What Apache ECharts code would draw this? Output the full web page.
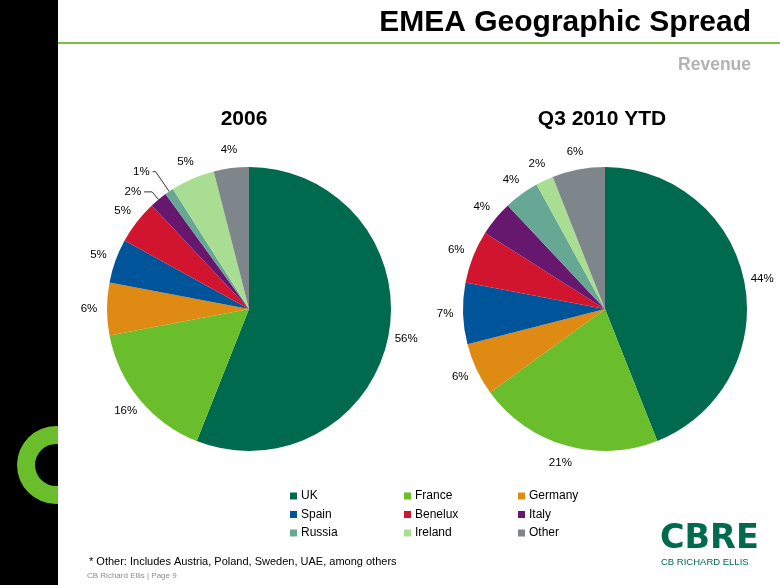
<!DOCTYPE html>
<html>
<head>
<meta charset="utf-8">
<script src="https://cdn.jsdelivr.net/npm/echarts@6/dist/echarts.min.js"></script>
<style>
html,body{margin:0;padding:0;background:#fff;}
#chart{width:780px;height:585px;}
</style>
</head>
<body>
<div id="chart"></div>
<script>
const categories = ['UK', 'France', 'Germany', 'Spain', 'Benelux', 'Italy', 'Russia', 'Ireland', 'Other'];
const values2006 = [56, 16, 6, 5, 5, 2, 1, 5, 4];
const valuesQ32010 = [44, 21, 6, 7, 6, 4, 4, 2, 6];
const pieTitles = ['2006', 'Q3 2010 YTD'];
const legendColumns = [['UK', 'Spain', 'Russia'], ['France', 'Benelux', 'Ireland'], ['Germany', 'Italy', 'Other']];
const colors = ['#006a4e', '#6abe2b', '#df8a13', '#00549a', '#d2152f', '#66176e', '#67a895', '#a9de92', '#7e858b'];

const FONT = 'Arial, "Liberation Sans", sans-serif';
const labelStyle = { color: '#000', fontSize: 11.5, fontFamily: FONT, formatter: '{c}%' };

// leader lines for the tiny 2006 slices: [length, length2]
const leaders2006 = { Italy: [10, 8], Russia: [24, 3] };

function mainPie(values, cx, leaders) {
  return {
    type: 'pie', center: [cx, 309], radius: 142, startAngle: 90, clockwise: true,
    avoidLabelOverlap: false, silent: true,
    label: { show: false }, labelLine: { show: false },
    itemStyle: { borderWidth: 0 },
    data: categories.map((n, i) => {
      const d = { name: n, value: values[i], itemStyle: { color: colors[i] } };
      if (leaders && leaders[n]) {
        d.label = Object.assign({ show: true, position: 'outside', distanceToLabelLine: 3 }, labelStyle);
        d.labelLine = { show: true, length: leaders[n][0], length2: leaders[n][1], lineStyle: { color: '#333', width: 1 } };
      }
      return d;
    })
  };
}
function labelRing(values, cx, leaders) {
  return {
    type: 'pie', center: [cx, 309], radius: [142, 172], startAngle: 90, clockwise: true,
    avoidLabelOverlap: false, silent: true,
    itemStyle: { color: 'rgba(0,0,0,0)', borderWidth: 0 },
    label: Object.assign({ show: true, position: 'inside', rotate: 0 }, labelStyle),
    labelLine: { show: false },
    emphasis: { disabled: true },
    data: categories.map((n, i) => ({ name: n, value: values[i], label: { show: !(leaders && leaders[n]) } }))
  };
}

const chart = echarts.init(document.getElementById('chart'), null, { renderer: 'canvas' });
const option = {
  animation: false,
  backgroundColor: '#fff',
  color: colors,
  legend: legendColumns.map((col, k) => ({
    data: col, orient: 'vertical', left: 290 + k * 114, top: 490, padding: 0,
    itemWidth: 7, itemHeight: 7, itemGap: 6.5, icon: 'rect', selectedMode: false,
    textStyle: { fontSize: 12, fontFamily: FONT, color: '#000', padding: [0, 0, 0, -1] }
  })),
  series: [
    mainPie(values2006, 249, leaders2006),
    mainPie(valuesQ32010, 605, null),
    labelRing(values2006, 249, leaders2006),
    labelRing(valuesQ32010, 605, null)
  ],
  graphic: [
    { type: 'rect', z: 0, shape: { x: 0, y: 0, width: 58, height: 585 }, style: { fill: '#000' } },
    { type: 'ring', z: 1, shape: { cx: 56, cy: 465, r: 39, r0: 21 }, style: { fill: '#6abe2b' } },
    { type: 'rect', z: 2, shape: { x: 58, y: 420, width: 50, height: 90 }, style: { fill: '#fff' } },
    { type: 'rect', z: 2, shape: { x: 58, y: 42, width: 722, height: 2 }, style: { fill: '#78c043' } },
    { type: 'text', z: 3, style: { text: 'EMEA Geographic Spread', x: 751, y: 23, align: 'right', verticalAlign: 'middle', font: 'bold 30px ' + FONT, fill: '#000' } },
    { type: 'text', z: 3, style: { text: 'Revenue', x: 751, y: 65, align: 'right', verticalAlign: 'middle', font: 'bold 17.5px ' + FONT, fill: '#b3b3b3' } },
    { type: 'text', z: 3, style: { text: pieTitles[0], x: 244, y: 119, align: 'center', verticalAlign: 'middle', font: 'bold 21px ' + FONT, fill: '#000' } },
    { type: 'text', z: 3, style: { text: pieTitles[1], x: 602, y: 119, align: 'center', verticalAlign: 'middle', font: 'bold 21px ' + FONT, fill: '#000' } },
    { type: 'text', z: 3, style: { text: '* Other: Includes Austria, Poland, Sweden, UAE, among others', x: 89, y: 562, align: 'left', verticalAlign: 'middle', font: '11px ' + FONT, fill: '#000' } },
    { type: 'text', z: 3, style: { text: 'CB Richard Ellis | Page 9', x: 87, y: 576, align: 'left', verticalAlign: 'middle', font: '8px ' + FONT, fill: '#8c8c8c' } },
    { type: 'text', z: 3, style: { text: 'CBRE', x: 660, y: 539, align: 'left', verticalAlign: 'middle', font: 'bold 33.5px "DejaVu Sans", sans-serif', fill: '#006a4e' } },
    { type: 'text', z: 3, style: { text: 'CB RICHARD ELLIS', x: 661, y: 562, align: 'left', verticalAlign: 'middle', font: '9.5px ' + FONT, fill: '#006a4e' } }
  ]
};
chart.setOption(option);
</script>
</body>
</html>
